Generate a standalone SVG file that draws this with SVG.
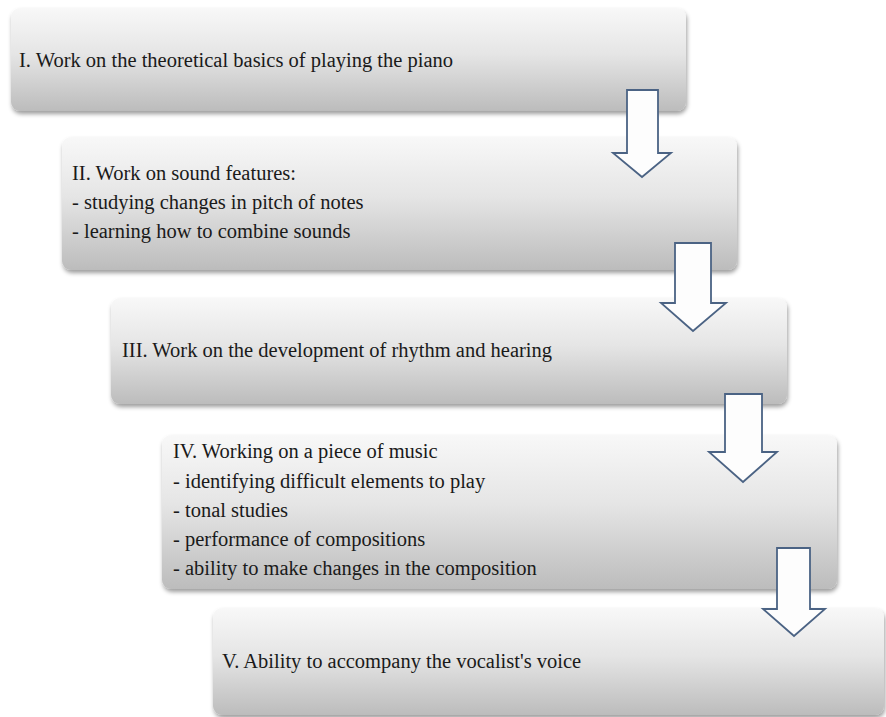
<svg xmlns="http://www.w3.org/2000/svg" width="886" height="717" viewBox="0 0 886 717">
  <defs>
    <linearGradient id="boxFill" x1="0" y1="0" x2="0" y2="1">
      <stop offset="0" stop-color="#f8f8f8"/>
      <stop offset="0.45" stop-color="#e5e5e5"/>
      <stop offset="1" stop-color="#bcbcbc"/>
    </linearGradient>
    <filter id="shadow" x="-5%" y="-10%" width="110%" height="125%">
      <feDropShadow dx="1" dy="3" stdDeviation="2.2" flood-color="#000" flood-opacity="0.38"/>
    </filter>
  </defs>
  <style>
    .box { fill: url(#boxFill); filter: url(#shadow); }
    .label { font-family: "Liberation Serif", "Times New Roman", serif; font-size: 20.5px; fill: #1a1a1a; }
    .arrow { fill: #fdfdfd; stroke: #4b6384; stroke-width: 1.8; stroke-linejoin: miter; }
  </style>
  <rect width="886" height="717" fill="#ffffff"/>

  <!-- stage boxes -->
  <g id="stage1">
    <rect class="box" x="11" y="8" width="675" height="103" rx="9"/>
    <text class="label" x="19" y="67">I. Work on the theoretical basics of playing the piano</text>
  </g>
  <g id="stage2">
    <rect class="box" x="62" y="137" width="675" height="133" rx="9"/>
    <text class="label" x="72" y="180">II. Work on sound features:</text>
    <text class="label" x="72" y="209">- studying changes in pitch of notes</text>
    <text class="label" x="72" y="238">- learning how to combine sounds</text>
  </g>
  <g id="stage3">
    <rect class="box" x="111" y="298" width="676" height="106" rx="9"/>
    <text class="label" x="122" y="357">III. Work on the development of rhythm and hearing</text>
  </g>
  <g id="stage4">
    <rect class="box" x="162" y="435" width="675" height="154" rx="9"/>
    <text class="label" x="173" y="458">IV. Working on a piece of music</text>
    <text class="label" x="173" y="488">- identifying difficult elements to play</text>
    <text class="label" x="173" y="517">- tonal studies</text>
    <text class="label" x="173" y="546">- performance of compositions</text>
    <text class="label" x="173" y="575">- ability to make changes in the composition</text>
  </g>
  <g id="stage5">
    <rect class="box" x="213" y="608" width="671" height="107" rx="9"/>
    <text class="label" x="222" y="668">V. Ability to accompany the vocalist's voice</text>
  </g>

  <!-- block arrows between stages -->
  <g id="connectors">
    <polygon class="arrow" points="627,90 658,90 658,153 671,153 642,177 613,153 627,153"/>
    <polygon class="arrow" points="675,243 711,243 711,303 726,303 693,331 661,303 675,303"/>
    <polygon class="arrow" points="725,394 762,394 762,452 777,452 743,482 709,452 725,452"/>
    <polygon class="arrow" points="777,548 810,548 810,609 825,609 794,636 763,609 777,609"/>
  </g>
</svg>
